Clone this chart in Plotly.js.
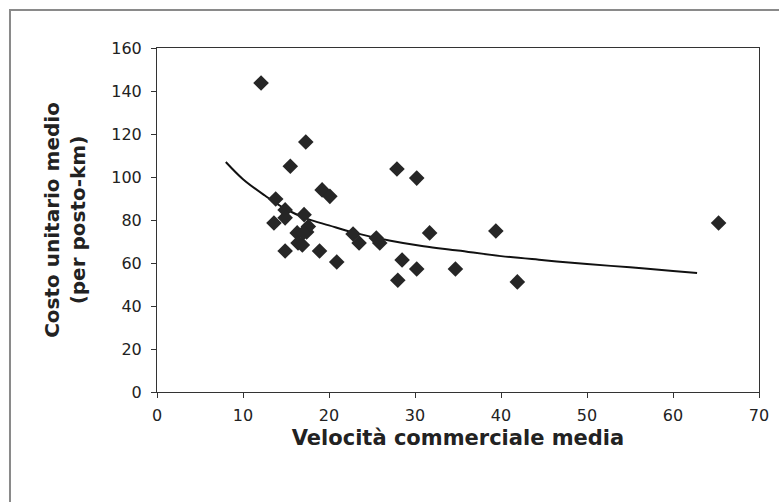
<!DOCTYPE html>
<html>
<head>
<meta charset="utf-8">
<script src="https://cdn.plot.ly/plotly-3.0.1.min.js"></script>
<style>html,body{margin:0;padding:0;background:#fff;}#chart{width:779px;height:502px;}</style>
</head>
<body>
<div id="chart"></div>
<script>
const velocita = [12.1, 13.8, 13.6, 14.9, 14.9, 15.5, 14.9, 16.3, 16.4, 16.9, 17.1, 17.3, 17.4, 17.6, 17.0, 18.9, 19.2, 20.1, 20.9, 22.8, 23.5, 25.5, 25.9, 27.9, 28.0, 28.5, 30.2, 30.2, 31.7, 34.7, 39.4, 41.9, 65.3];
const costo    = [143.7, 89.8, 78.6, 84.7, 81.0, 105.0, 65.6, 74.0, 69.3, 68.4, 82.5, 116.3, 74.4, 77.0, 74.0, 65.6, 94.0, 91.0, 60.5, 73.5, 69.3, 71.6, 69.3, 103.7, 52.0, 61.4, 99.5, 57.2, 74.0, 57.2, 74.9, 51.2, 78.6];

// Trend curve
const trendX = [8, 10, 12.5, 15, 17.5, 20, 23, 27, 31, 35, 40, 45, 50, 55, 60, 62.8];
const trendY = [107, 99, 91.5, 85, 80.5, 77.5, 74, 70.5, 67.8, 65.8, 63.2, 61.3, 59.5, 58, 56.3, 55.3];

const xTicks = [0, 10, 20, 30, 40, 50, 60, 70];
const yTicks = [0, 20, 40, 60, 80, 100, 120, 140, 160];

const font = "DejaVu Sans, Liberation Sans, Arial, sans-serif";

const data = [
  {
    x: trendX, y: trendY, type: 'scatter', mode: 'lines',
    line: {color: '#111', width: 2, shape: 'spline', smoothing: 1},
    hoverinfo: 'skip', showlegend: false
  },
  {
    x: velocita, y: costo, type: 'scatter', mode: 'markers',
    marker: {symbol: 'diamond', size: 12, color: '#262626'},
    showlegend: false
  }
];

const layout = {
  width: 779, height: 502,
  margin: {l: 157, r: 20, t: 48, b: 110},
  paper_bgcolor: '#fff', plot_bgcolor: '#fff',
  font: {family: font, color: '#222', size: 13},
  xaxis: {
    range: [0, 70], tickvals: xTicks, ticktext: xTicks.map(String),
    showgrid: false, zeroline: false,
    showline: true, linecolor: '#333', linewidth: 1, mirror: true,
    ticks: 'outside', ticklen: 5, tickcolor: '#333',
    ticklabelstandoff: 4,
    tickfont: {family: font, size: 16, color: '#222'},
    title: {text: 'Velocità commerciale media', font: {family: font, size: 21, color: '#222', weight: 'bold'}, standoff: 6}
  },
  yaxis: {
    range: [0, 160], tickvals: yTicks, ticktext: yTicks.map(String),
    showgrid: false, zeroline: false,
    showline: true, linecolor: '#333', linewidth: 1, mirror: true,
    ticks: 'outside', ticklen: 5, tickcolor: '#333',
    ticklabelstandoff: 6,
    tickfont: {family: font, size: 16, color: '#222'},
    title: {text: 'Costo unitario medio<br>(per posto-km)', font: {family: font, size: 20, color: '#222', weight: 'bold'}, standoff: 20}
  },
  shapes: [
    {type: 'rect', xref: 'paper', yref: 'paper', x0: -0.2442, x1: 1.06, y0: -0.36, y1: 1.1105,
     line: {color: '#8a8a8a', width: 2}, fillcolor: 'rgba(0,0,0,0)', layer: 'below'}
  ]
};

Plotly.newPlot('chart', data, layout, {displayModeBar: false, staticPlot: true});
</script>
</body>
</html>
